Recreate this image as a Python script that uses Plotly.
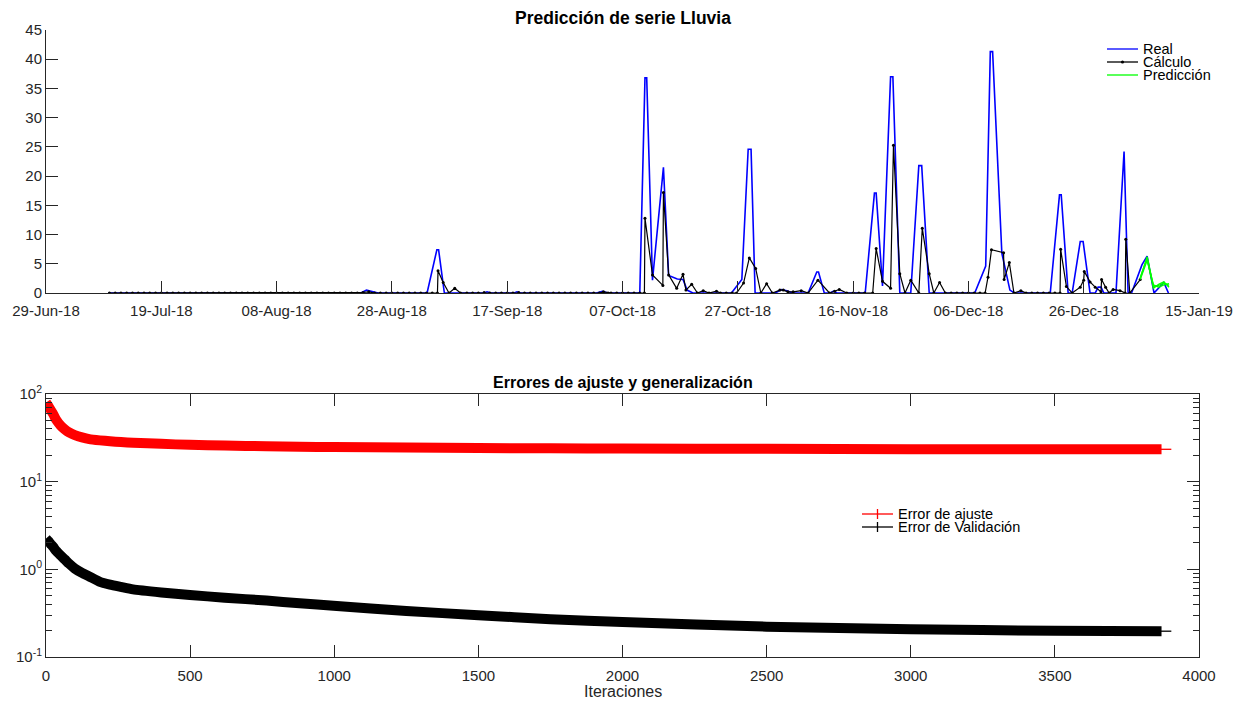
import pandas as pd
import plotly.graph_objects as go

# ---------------------------------------------------------------------------
# Serie de lluvia (días contados desde el 29-Jun-18, valores en mm)
# ---------------------------------------------------------------------------
inicio = pd.Timestamp("2018-06-29")

dias_real = [10.8, 54.6, 55.6, 56.6, 57.6, 66.1, 67.8, 68.1, 69.1, 76.0, 76.5, 77.2,
             81.2, 81.7, 82.3, 95.5, 96.5, 97.5, 103.0, 103.9, 104.2, 105.2, 107.1,
             108.0, 109.5, 110.5, 111.2, 112.2, 118.9, 120.7, 121.8, 122.3, 123.0,
             126.5, 127.6, 128.5, 129.5, 132.2, 133.7, 134.0, 135.0, 136.0, 136.6,
             137.2, 142.1, 143.7, 144.0, 145.1, 146.5, 146.9, 148.1, 150.0, 151.4,
             151.9, 153.2, 161.1, 163.0, 163.8, 164.2, 165.8, 167.2, 168.0, 174.2,
             175.8, 176.1, 177.3, 178.0, 179.4, 179.9, 181.1, 182.0, 182.5, 183.0,
             183.5, 185.6, 187.0, 187.7, 188.3, 190.1, 191.0, 192.2, 193.9, 194.7]
real = [0, 0, 0.5, 0.3, 0, 0, 7.4, 7.4, 0, 0, 0.2, 0,
        0, 0.2, 0, 0, 0.3, 0, 0, 36.8, 36.8, 2.2, 21.5,
        3.0, 2.4, 2.3, 0.5, 0, 0, 2.3, 24.6, 24.6, 0,
        0, 0.6, 0.4, 0, 0, 3.6, 3.6, 0, 0, 0.3,
        0, 0, 17.1, 17.1, 1.2, 37.0, 37.0, 0, 0, 21.8,
        21.8, 0, 0, 4.6, 41.3, 41.3, 6.8, 0.5, 0, 0,
        16.8, 16.8, 0, 0, 8.8, 8.8, 0, 0, 1.0, 1.0,
        0, 0, 24.2, 0, 0, 4.8, 6.3, 0, 1.8, 0]

dias_calculo = [11, 12, 13, 14, 15, 16, 17, 18, 19, 20, 21, 22, 23, 24, 25, 26, 27,
                28, 29, 30, 31, 32, 33, 34, 35, 36, 37, 38, 39, 40, 41, 42, 43, 44,
                45, 46, 47, 48, 49, 50, 51, 52, 53, 54, 55, 56, 57, 58, 59, 60, 61,
                62, 63, 64, 65, 66, 67, 67.9, 68.0, 68.9, 69.9, 70.9, 71.9, 73, 74,
                75, 76, 77, 78, 79, 80, 81, 82, 83, 84, 85, 86, 87, 88, 89, 90, 91,
                92, 93, 94, 95, 96, 96.7, 97.5, 98, 99, 100, 101, 102, 103, 103.8,
                103.9, 105.2, 107.0, 107.1, 108.0, 109.4, 110.5, 111.0, 112.0, 113.0,
                114.0, 115.0, 116.3, 117.0, 118.0, 119.0, 119.8, 121.0, 122.0, 123.1,
                124.0, 125.0, 126.0, 127.3, 127.9, 128.7, 129.6, 131.0, 132.2, 133.9,
                135.9, 136.8, 137.6, 138.9, 140.0, 141.0, 142.0, 143.4, 144.0, 145.1,
                146.5, 147.0, 148.1, 149.0, 150.0, 151.4, 152.0, 153.2, 154.0, 155.0,
                156.0, 157.0, 158.0, 159.0, 160.0, 161.0, 162.0, 162.9, 163.4, 164.0,
                166.1, 166.2, 167.1, 167.9, 169.1, 170.0, 171.0, 172.0, 173.0, 174.0,
                175.0, 175.9, 176.0, 177.0, 178.0, 179.4, 180.0, 180.1, 181.1, 182.0,
                183.0, 183.1, 183.8, 184.4, 185.1, 186.3, 187.2, 187.3, 188.0, 189.8]
calculo = [0, 0, 0, 0, 0, 0, 0, 0, 0, 0, 0, 0, 0, 0, 0, 0, 0,
           0, 0, 0, 0, 0, 0, 0, 0, 0, 0, 0, 0, 0, 0, 0, 0, 0,
           0, 0, 0, 0, 0, 0, 0, 0, 0, 0, 0.1, 0.2, 0, 0, 0, 0, 0,
           0, 0, 0, 0, 0, 0, 0, 3.8, 1.8, 0, 0.8, 0, 0, 0,
           0, 0.1, 0, 0, 0, 0, 0, 0.1, 0, 0, 0, 0, 0, 0, 0, 0, 0,
           0, 0, 0, 0, 0, 0.2, 0, 0, 0, 0, 0, 0, 0, 0,
           12.8, 3.1, 1.3, 17.2, 3.1, 0.8, 3.2, 0.5, 1.5, 0,
           0.4, 0, 0.3, 0, 0, 0, 0, 1.7, 6.0, 4.2,
           0, 1.6, 0, 0.5, 0.5, 0.2, 0.2, 0.4, 0, 2.2,
           0, 0.3, 0.6, 0, 0, 0, 0, 0, 7.6, 2.0,
           0.8, 25.3, 3.3, 0, 2.2, 0, 11.1, 3.3, 0, 1.8,
           0, 0, 0, 0, 0, 0, 0, 0, 2.7, 7.4,
           6.9, 2.3, 5.2, 0, 0.4, 0, 0, 0, 0, 0,
           0, 0, 7.5, 1.1, 0, 1.0, 2.2, 3.7, 1.9, 1.0,
           0.2, 2.3, 1.0, 0, 0.6, 0.4, 0, 9.2, 0, 2.3]

dias_prediccion = [189.8, 191.0, 192.1, 193.0, 193.9, 194.8]
prediccion_1 = [2.5, 6.2, 1.1, 1.3, 1.7, 1.3]
prediccion_2 = [2.3, 5.6, 1.4, 1.0, 1.4, 1.6]
prediccion_3 = [2.6, 5.9, 0.8, 1.5, 1.9, 1.0]

fechas_ticks = ["2018-06-29", "2018-07-19", "2018-08-08", "2018-08-28", "2018-09-17",
                "2018-10-07", "2018-10-27", "2018-11-16", "2018-12-06", "2018-12-26",
                "2019-01-15"]
etiquetas_ticks = ["29-Jun-18", "19-Jul-18", "08-Aug-18", "28-Aug-18", "17-Sep-18",
                   "07-Oct-18", "27-Oct-18", "16-Nov-18", "06-Dec-18", "26-Dec-18",
                   "15-Jan-19"]

# ---------------------------------------------------------------------------
# Errores de entrenamiento por iteración
# ---------------------------------------------------------------------------
iteraciones = [0, 8, 16, 25, 35, 50, 65, 80, 100, 125, 150, 187, 222, 260, 302, 400,
               499, 620, 765, 880, 997, 1250, 1500, 1750, 2000, 2500, 3000, 3500, 3870]
error_ajuste = [80, 73, 66, 59, 51, 44, 39.5, 36.5, 34, 32, 30.6, 29.6, 28.9, 28.3,
                27.8, 27.0, 26.3, 25.8, 25.4, 25.1, 24.8, 24.5, 24.2, 24.0, 23.9, 23.7,
                23.5, 23.4, 23.4]
error_validacion = [2.25, 2.1, 1.95, 1.8, 1.63, 1.45, 1.30, 1.16, 1.02, 0.91, 0.83,
                    0.72, 0.67, 0.63, 0.59, 0.545, 0.51, 0.475, 0.44, 0.41, 0.385,
                    0.335, 0.30, 0.27, 0.25, 0.222, 0.207, 0.199, 0.197]


def a_fechas(dias):
    return inicio + pd.to_timedelta(dias, unit="D")


AZUL = "#0000ff"
NEGRO = "#000000"
VERDE = "#00ff00"
ROJO = "#ff0000"
EJE = "#262626"
FUENTE = "Liberation Sans, Arial, sans-serif"

fig = go.Figure()

fig.add_trace(go.Scatter(x=a_fechas(dias_real), y=real, mode="lines",
                         line=dict(color=AZUL, width=1.6), name="Real",
                         showlegend=False, xaxis="x", yaxis="y"))
fig.add_trace(go.Scatter(x=a_fechas(dias_calculo), y=calculo, mode="lines+markers",
                         line=dict(color=NEGRO, width=1.2),
                         marker=dict(color=NEGRO, size=3), name="Cálculo",
                         showlegend=False, xaxis="x", yaxis="y"))
for serie in (prediccion_1, prediccion_2, prediccion_3):
    fig.add_trace(go.Scatter(x=a_fechas(dias_prediccion), y=serie, mode="lines",
                             line=dict(color=VERDE, width=1.4), name="Predicción",
                             showlegend=False, xaxis="x", yaxis="y"))

fig.add_trace(go.Scatter(x=iteraciones, y=error_ajuste, mode="lines",
                         line=dict(color=ROJO, width=10, shape="spline", smoothing=0.6),
                         name="Error de ajuste", showlegend=False,
                         xaxis="x2", yaxis="y2"))
fig.add_trace(go.Scatter(x=iteraciones, y=error_validacion, mode="lines",
                         line=dict(color=NEGRO, width=10, shape="spline", smoothing=0.6),
                         name="Error de Validación", showlegend=False,
                         xaxis="x2", yaxis="y2"))
# Cruces finales de cada curva de error
fig.add_trace(go.Scatter(x=iteraciones[-1:], y=error_ajuste[-1:], mode="markers",
                         marker=dict(symbol="line-ew", size=14,
                                     line=dict(color=ROJO, width=1.3)),
                         showlegend=False, xaxis="x2", yaxis="y2", hoverinfo="skip"))
fig.add_trace(go.Scatter(x=iteraciones[-1:], y=error_validacion[-1:], mode="markers",
                         marker=dict(symbol="line-ew", size=14,
                                     line=dict(color=NEGRO, width=1.3)),
                         showlegend=False, xaxis="x2", yaxis="y2", hoverinfo="skip"))

# Márgenes del área de dibujo (en píxeles)
ML, MR, MT, MB = 46, 46, 30, 44
ANCHO, ALTO = 1245, 701
AW, AH = ANCHO - ML - MR, ALTO - MT - MB


def px_x(px):
    return (px - ML) / AW


def px_y(py):
    return (ALTO - MB - py) / AH


# Leyendas dibujadas a mano, compactas
formas = []
notas = []


def entrada(py, color, texto, x0=1107, x1=1138, marca=None):
    formas.append(dict(type="line", xref="paper", yref="paper",
                       x0=px_x(x0), x1=px_x(x1), y0=px_y(py), y1=px_y(py),
                       line=dict(color=color, width=1.3)))
    xm = (x0 + x1) / 2
    if marca == "punto":
        formas.append(dict(type="circle", xref="paper", yref="paper",
                           x0=px_x(xm - 1.6), x1=px_x(xm + 1.6),
                           y0=px_y(py + 1.6), y1=px_y(py - 1.6),
                           fillcolor=color, line=dict(color=color, width=0)))
    elif marca == "cruz":
        formas.append(dict(type="line", xref="paper", yref="paper",
                           x0=px_x(xm), x1=px_x(xm), y0=px_y(py - 5), y1=px_y(py + 5),
                           line=dict(color=color, width=1.3)))
    notas.append(dict(text=texto, xref="paper", yref="paper", x=px_x(x1 + 3),
                      y=px_y(py), xanchor="left", yanchor="middle", showarrow=False,
                      font=dict(family=FUENTE, size=14.5, color=NEGRO)))


entrada(49, AZUL, "Real")
entrada(62, NEGRO, "Cálculo", marca="punto")
entrada(75, VERDE, "Predicción")
entrada(514, ROJO, "Error de ajuste", x0=862, x1=893, marca="cruz")
entrada(527, NEGRO, "Error de Validación", x0=862, x1=893, marca="cruz")

notas.append(dict(text="<b>Predicción de serie Lluvia</b>", xref="paper", yref="paper",
                  x=0.5, y=px_y(18), xanchor="center", yanchor="middle",
                  showarrow=False, font=dict(family=FUENTE, size=17.5, color=NEGRO)))
notas.append(dict(text="<b>Errores de ajuste y generalización</b>", xref="paper",
                  yref="paper", x=0.5, y=px_y(382), xanchor="center",
                  yanchor="middle", showarrow=False,
                  font=dict(family=FUENTE, size=16, color=NEGRO)))
notas.append(dict(text="Iteraciones", xref="paper", yref="paper", x=0.5, y=px_y(691),
                  xanchor="center", yanchor="middle", showarrow=False,
                  font=dict(family=FUENTE, size=16, color=EJE)))

fuente_ticks = dict(family=FUENTE, size=15, color=EJE)
eje_comun = dict(showline=True, linecolor=EJE, linewidth=1, ticks="inside",
                 ticklen=12, tickwidth=1, tickcolor=EJE, showgrid=False,
                 zeroline=False, tickfont=fuente_ticks)

menores = [m * 10 ** e for e in (-1, 0, 1) for m in range(2, 10)]

fig.update_layout(
    width=ANCHO, height=ALTO,
    margin=dict(l=ML, r=MR, t=MT, b=MB),
    paper_bgcolor="white", plot_bgcolor="white",
    showlegend=False,
    font=dict(family=FUENTE, color=EJE),
    xaxis=dict(eje_comun, domain=[0, 1], anchor="y", type="date",
               range=[inicio, inicio + pd.Timedelta(days=200)],
               tickmode="array", tickvals=fechas_ticks, ticktext=etiquetas_ticks,
               ticklabelstandoff=4),
    yaxis=dict(eje_comun, domain=[px_y(293), 1], anchor="x", range=[0, 45],
               tickmode="linear", tick0=0, dtick=5),
    xaxis2=dict(eje_comun, domain=[0, 1], anchor="y2", range=[0, 4000],
                tickmode="linear", tick0=0, dtick=500, mirror="ticks",
                ticklabelstandoff=5),
    yaxis2=dict(eje_comun, domain=[0, px_y(394)], anchor="x2", type="log",
                range=[-1, 2], mirror="ticks", tickmode="array",
                tickvals=[0.1, 1, 10, 100],
                ticktext=["10<sup>-1</sup>", "10<sup>0</sup>", "10<sup>1</sup>",
                          "10<sup>2</sup>"],
                minor=dict(tickmode="array", tickvals=menores, ticks="inside",
                           ticklen=6, tickcolor=EJE, showgrid=False)),
    shapes=formas,
    annotations=notas,
)

fig.write_html("out.html")
